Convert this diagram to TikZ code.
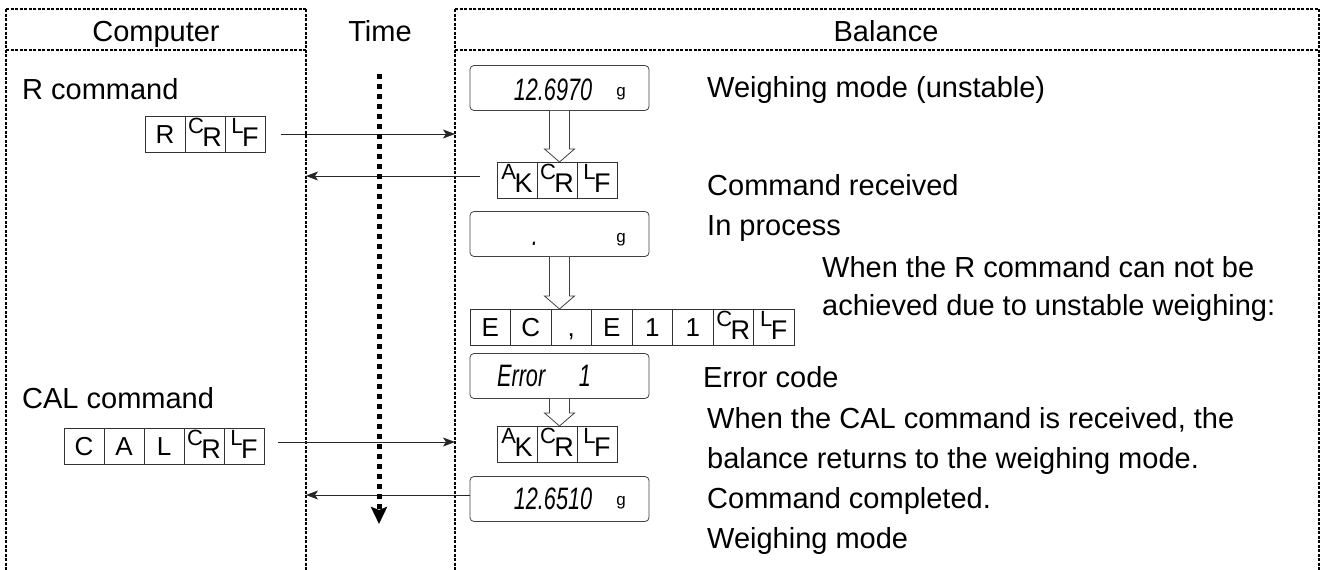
\documentclass[tikz,border=0pt]{standalone}
\usepackage{fontspec}
\setmainfont{Liberation Sans}
\usetikzlibrary{calc, positioning}
\usetikzlibrary{arrows.meta}

\newcommand{\twochar}[2]{\raisebox{10pt}{\fontsize{22}{22}\selectfont #1}\hspace{-1.5pt}\raisebox{-3pt}{\fontsize{27}{27}\selectfont #2}}
\newcommand{\lcd}[1]{\scalebox{0.7}[1]{\fontsize{31}{31}\selectfont\itshape #1}}
\newcommand{\blockdown}[2]{%
    \draw[line width=0.8pt, draw=black!75, fill=white]
        ([xshift=-10pt]#1.south) -- ([xshift=-10pt,yshift=13pt]#1.south |- #2.north)
        -- ([xshift=-15pt,yshift=13pt]#1.south |- #2.north) -- (#1.south |- #2.north)
        -- ([xshift=15pt,yshift=13pt]#1.south |- #2.north)
        -- ([xshift=10pt,yshift=13pt]#1.south |- #2.north) -- ([xshift=10pt]#1.south);}

\begin{document}
\begin{tikzpicture}[x=1pt, y=-1pt,
    frame/.style={line width=1.3pt, dash pattern=on 3pt off 1.5pt},
    thickframe/.style={frame, line width=2.4pt},
    cbox/.style={draw=black!80, line width=0.8pt, minimum width=40pt, minimum height=36pt,
        inner sep=0pt, outer sep=0pt, text height=20pt, text depth=1.4pt,
        font=\fontsize{26}{26}\selectfont},
    display/.style={draw=black!75, line width=0.8pt, rounded corners=4pt,
        minimum width=179pt, minimum height=45pt, inner sep=0pt},
    msg/.style={-{Stealth[length=12pt,width=9pt,inset=3pt]}, line width=0.8pt, draw=black!85},
    timeline/.style={line width=5pt, dash pattern=on 5pt off 5pt,
        -{Stealth[length=17pt,width=16pt,inset=3pt]}},
    lbl/.style={font=\fontsize{29}{29}\selectfont, inner sep=0pt, anchor=base west},
    note/.style={lbl},
    unit/.style={font=\fontsize{17}{17}\selectfont, inner sep=0pt},
    ]
    \useasboundingbox (0,0) rectangle (1326,570);

    \coordinate (cdiv) at (306,9);
    \coordinate (bdiv) at (455,9);
    \coordinate (tbeg) at (379,74);
    \coordinate (tend) at (379,524);

    \draw[thickframe] (6,9) -- (6,570);
    \draw[frame] (6,9) -- (306,9) (455,9) -- (1319,9);
    \draw[frame] (6,50) -- (306,50) (455,50) -- (1319,50);
    \draw[frame] (cdiv) -- (306,570);
    \draw[thickframe] (bdiv) -- (455,570);
    \draw[frame] (1319,9) -- (1319,570);

    \node[lbl, anchor=base] (hcomp) at (156,41) {Computer};
    \node[lbl, anchor=base] (htime) at (380,41) {Time};
    \node[note, anchor=base] (hbal) at (886,41) {Balance};

    \node[lbl] (rlabel) at (22,99) {R command};
    \node[lbl] (callabel) at (22,408) {CAL command};

    \foreach \c [count=\i] in {R, \twochar CR, \twochar LF}
        \node[cbox] (rcmd\i) at ({125+40*\i},134) {\c};
    \foreach \c [count=\i] in {C, A, L, \twochar CR, \twochar LF}
        \node[cbox] (cal\i) at ({44+40*\i},446) {\c};
    \foreach \c [count=\i] in {\twochar AK, \twochar CR, \twochar LF} {
        \node[cbox] (ackA\i) at ({477+40*\i},180) {\c};
        \node[cbox] (ackB\i) at ({477+40*\i},444) {\c};
    }
    \foreach \c [count=\i] in {E, C, {,}, E, 1, 1, \twochar CR, \twochar LF}
        \node[cbox, minimum width=40.5pt] (err\i) at ({449.75+40.5*\i},327) {\c};

    \node[display] (d1) at (559.5,88) {};
    \node[inner sep=0pt] (d1v) at (553,90) {\lcd{12.6970}};
    \node[unit] (d1u) at (621,94) {g};
    \node[display] (d2) at (559.5,234) {};
    \node[inner sep=0pt] (d2v) at (535,244) {\lcd{.}};
    \node[unit] (d2u) at (621,240) {g};
    \node[display] (d3) at (559.5,376) {};
    \node[inner sep=0pt] (d3v) at (544,376) {\lcd{Error\hspace{48pt}1}};
    \node[display] (d4) at (559.5,499) {};
    \node[inner sep=0pt] (d4v) at (553,499) {\lcd{12.6510}};
    \node[unit] (d4u) at (621,503) {g};

    \blockdown{d1}{ackA2}
    \blockdown{d2}{err3}
    \blockdown{d3}{ackB2}

    \node[note] (n1) at (707,97) {Weighing mode (unstable)};
    \node[note] (n2) at (707,195) {Command received};
    \node[note] (n3) at (707,235) {In process};
    \node[note] (n4) at (822,277) {When the R command can not be};
    \node[note] (n5) at (822,315) {achieved due to unstable weighing:};
    \node[note] (n6) at (703,387) {Error code};
    \node[note] (n7) at (707,428) {When the CAL command is received, the};
    \node[note] (n8) at (707,468) {balance returns to the weighing mode.};
    \node[note] (n9) at (707,508) {Command completed.};
    \node[note] (n10) at (707,548) {Weighing mode};

    \draw[msg] ([xshift=16pt]rcmd3.east) -- (rcmd3.east -| bdiv);
    \draw[msg] ([xshift=-17pt,yshift=4pt]ackA1.west) -- ([yshift=4pt]ackA1.west -| cdiv);
    \draw[msg] ([xshift=14pt,yshift=4pt]cal5.east) -- ([yshift=4pt]cal5.east -| bdiv);
    \draw[msg] ([yshift=4pt]d4.west) -- ([yshift=4pt]d4.west -| cdiv);

    \draw[timeline] (tbeg) -- (tend);
\end{tikzpicture}
\end{document}
